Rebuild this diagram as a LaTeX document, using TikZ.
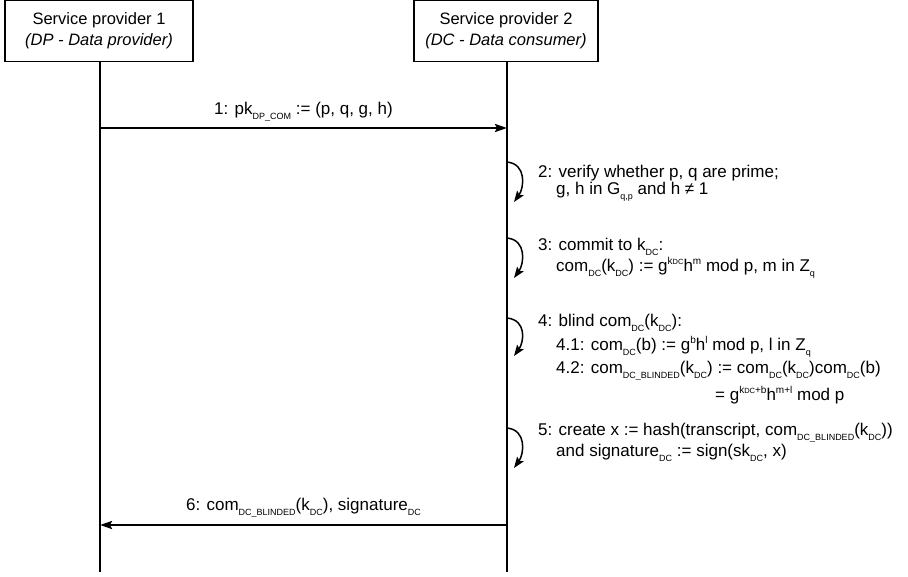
\documentclass[tikz,border=0pt]{standalone}
\usepackage{fontspec}
\setmainfont{Liberation Sans}
\usetikzlibrary{arrows.meta, positioning}
\newcommand{\lo}[1]{\smash{\raisebox{-5pt}{\fontsize{9}{9}\selectfont #1}}}
\newcommand{\hi}[1]{\smash{\raisebox{7pt}{\fontsize{10}{10}\selectfont #1}}}
\newcommand{\kdc}{k{\fontsize{7.5}{8}\selectfont DC}}

\begin{document}
\begin{tikzpicture}[x=1pt, y=-1pt,
      actor/.style={rectangle, draw=black, line width=1.3pt, minimum height=61pt,
                    align=center, font=\fontsize{16.5}{21}\selectfont, inner sep=0pt},
      life/.style={line width=1.6pt},
      msg/.style={-{Stealth[length=12pt, width=8pt, inset=2pt]}, line width=2.2pt},
      selfarr/.style={-{Stealth[length=11pt, width=8pt, inset=2pt]}, line width=1.5pt},
      lbl/.style={font=\fontsize{17}{20}\selectfont, anchor=base, inner sep=0pt},
      note/.style={font=\fontsize{17}{20}\selectfont, anchor=base west, align=left, inner sep=0pt}]
      \useasboundingbox (0,0) rectangle (908,576);
      % Participants
      \node[actor, minimum width=188pt] (sp1) at (99,31) {Service provider 1\\\textit{(DP - Data provider)}};
      \node[actor, minimum width=184pt] (sp2) at (506,31) {Service provider 2\\\textit{(DC - Data consumer)}};
      % Lifelines
      \coordinate (end1) at (100,572);
      \coordinate (end2) at (507,572);
      \draw[life] (sp1.south -| end1) -- (end1);
      \draw[life] (sp2.south -| end2) -- (end2);
      % Message 1
      \coordinate (m1a) at (100,128);
      \coordinate (m1b) at (507,128);
      \draw[msg] (m1a) -- node[lbl, yshift=14pt] {1: pk\lo{DP\_COM} := (p, q, g, h)} (m1b);
      % Local steps of DC (notes anchored at their last baseline)
      \coordinate (s2a) at (507,162);
      \coordinate (s2b) at (514,202);
      \draw[selfarr] (s2a) .. controls +(20,2) and +(10,-14) .. (s2b);
      \node[note] (t2) at (538,194) {2: verify whether p, q are prime;\\[-3pt]
            \hspace*{18pt}g, h in G\lo{q,p} and h ≠ 1};
      \coordinate (s3a) at (507,238);
      \coordinate (s3b) at (514,278);
      \draw[selfarr] (s3a) .. controls +(20,2) and +(10,-14) .. (s3b);
      \node[note] (t3) at (538,271) {3: commit to k\lo{DC}:\\[1pt]
            \hspace*{18pt}com\lo{DC}(k\lo{DC}) := g\hi{\kdc}h\hi{m} mod p, m in Z\lo{q}};
      \coordinate (s4a) at (507,318);
      \coordinate (s4b) at (514,356);
      \draw[selfarr] (s4a) .. controls +(20,2) and +(10,-14) .. (s4b);
      \node[note] (t4) at (538,400) {4: blind com\lo{DC}(k\lo{DC}):\\[4pt]
            \hspace*{18pt}4.1: com\lo{DC}(b) := g\hi{b}h\hi{l} mod p, l in Z\lo{q}\\[3pt]
            \hspace*{18pt}4.2: com\lo{DC\_BLINDED}(k\lo{DC}) := com\lo{DC}(k\lo{DC})com\lo{DC}(b)\\[7pt]
            \hspace*{177pt}= g\hi{\kdc+b}h\hi{m+l} mod p};
      \coordinate (s5a) at (507,428);
      \coordinate (s5b) at (514,468);
      \draw[selfarr] (s5a) .. controls +(20,2) and +(10,-14) .. (s5b);
      \node[note] (t5) at (538,456) {5: create x := hash(transcript, com\lo{DC\_BLINDED}(k\lo{DC}))\\[1pt]
            \hspace*{18pt}and signature\lo{DC} := sign(sk\lo{DC}, x)};
      % Message 6
      \coordinate (m6a) at (507,525);
      \coordinate (m6b) at (100,525);
      \draw[msg] (m6a) -- node[lbl, yshift=15pt] {6: com\lo{DC\_BLINDED}(k\lo{DC}), signature\lo{DC}} (m6b);
   \end{tikzpicture}
\end{document}
